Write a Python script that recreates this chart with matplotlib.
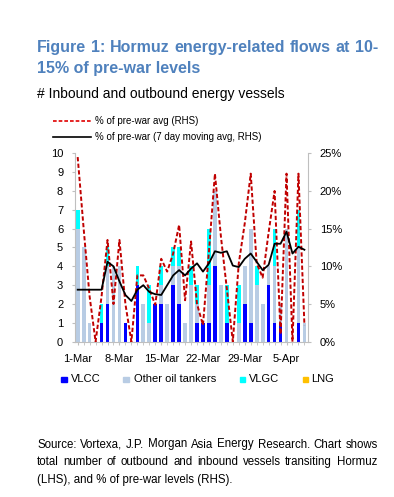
import matplotlib
matplotlib.use('Agg')
import matplotlib.pyplot as plt
import numpy as np
from matplotlib.lines import Line2D
from matplotlib.patches import Rectangle

plt.rcParams['font.family'] = ['Liberation Sans', 'DejaVu Sans']

# ---------------- data (1-Mar .. 8-Apr, daily) ----------------
tick_pos = [0, 7, 14, 21, 28, 35]
tick_labels = ['1-Mar', '8-Mar', '15-Mar', '22-Mar', '29-Mar', '5-Apr']

vlcc  = [0,0,0,0,1,2,0,0,1,0,3,0,0,2,2,0,3,2,0,0,1,1,1,4,0,1,0,0,2,1,0,0,3,1,1,0,0,1,0]
other = [6,5,1,0,0,2,4,4,0,0,0,2,1,0,1,2,1,2,1,3,1,0,2,4,3,0,0,1,2,5,3,2,1,3,1,6,0,4,1]
vlgc  = [1,0,0,0,1,1,0,0,0,0,1,0,2,0,1,0,1,1,0,1,1,0,3,0,0,2,0,2,0,0,1,0,0,2,0,0,0,2,0]
lng   = [0]*39

pct_prewar = [24.5,15,6,0,6,13.5,5,13.5,5,0,8.8,8.8,7,4.9,11,9.3,11.7,15.5,5.5,13.3,
              5,2.2,12,22.3,14,7,0,10.4,15.7,22.3,10.4,8.5,14.5,20,1,22.3,0,22.3,2.2]
pct_ma7 = [6.9,6.9,6.9,6.9,6.9,10.6,10.0,8.0,6.2,5.4,6.9,7.5,6.6,6.3,6.2,7.5,8.8,9.5,8.8,9.7,
           10.4,9.3,10.4,12.0,11.8,12.0,10.1,9.9,11.0,11.7,10.6,9.5,10.2,13.0,13.0,14.6,11.7,12.6,12.2]

series_names = ['VLCC', 'Other oil tankers', 'VLGC', 'LNG']
series_colors = ['#0000FF', '#B8CCE4', '#00FFFF', '#FFC000']

footnote = ['Source: Vortexa, J.P. Morgan Asia Energy Research. Chart shows',
            'total number of outbound and inbound vessels transiting Hormuz',
            '(LHS), and % of pre-war levels (RHS).']

# ---------------- layout ----------------
W, H = 394, 497
fig = plt.figure(figsize=(W/100, H/100), dpi=100)
def fx(px): return px / W
def fy(py): return 1 - py / H

GRAY = '#BFBFBF'
ax = fig.add_axes([fx(75), fy(341.7), (308 - 75) / W, (341.7 - 153.3) / H])
x = np.arange(len(vlcc))
bottom = np.zeros(len(x))
for vals, col in zip([vlcc, other, vlgc, lng], series_colors):
    ax.bar(x, vals, 0.62, bottom=bottom, color=col, linewidth=0)
    bottom += np.array(vals, dtype=float)
ax.set_ylim(0, 10)
ax.set_xlim(-0.45, 38.6)
ax.set_yticks(range(0, 11))
ax.set_xticks(tick_pos)
ax.set_xticklabels(tick_labels)
ax.set_xticks(x, minor=True)
for s in ['top', 'right']:
    ax.spines[s].set_visible(False)
for s in ['left', 'bottom']:
    ax.spines[s].set_color(GRAY)
ax.tick_params(axis='y', length=2.5, color=GRAY, labelsize=8, pad=6)
ax.tick_params(axis='x', which='both', length=2.5, color=GRAY, labelsize=8, pad=6)

ax2 = ax.twinx()
ax2.plot(x, pct_prewar, color='#C00000', lw=1.4, ls=(0, (2.2, 1.2)))
ax2.plot(x, pct_ma7, color='black', lw=1.3)
ax2.set_ylim(0, 25)
ax2.set_yticks([0, 5, 10, 15, 20, 25])
ax2.set_yticklabels([f'{v}%' for v in [0, 5, 10, 15, 20, 25]])
for s in ['top', 'left', 'bottom']:
    ax2.spines[s].set_visible(False)
ax2.spines['right'].set_color(GRAY)
ax2.tick_params(axis='y', length=2.5, color=GRAY, labelsize=8, pad=6)

# ---------------- texts ----------------
renderer = fig.canvas.get_renderer()

def justify(words, x0, x1, y, **kw):
    ts = [fig.text(0, fy(y), w, va='baseline', ha='left', **kw) for w in words]
    widths = [t.get_window_extent(renderer).width for t in ts]
    gap = ((x1 - x0) - sum(widths)) / (len(words) - 1)
    cx = x0
    for t, w in zip(ts, widths):
        t.set_x(fx(cx))
        cx += w + gap

TITLE_C = '#4F81BD'
justify('Figure 1: Hormuz energy-related flows at 10-'.split(), 37, 378, 51.7,
        fontsize=11.5, fontweight='bold', color=TITLE_C)
fig.text(fx(37), fy(73.3), '15% of pre-war levels', fontsize=11.5, fontweight='bold',
         color=TITLE_C, va='baseline')
fig.text(fx(37), fy(98.3), '# Inbound and outbound energy vessels', fontsize=10,
         va='baseline')

# top legend
for yy, style, lab in [(120.7, dict(color='#E00000', lw=1.2, ls=(0, (2.2, 1.2))), '% of pre-war avg (RHS)'),
                       (136.7, dict(color='black', lw=1.2, ls='-'), '% of pre-war (7 day moving avg, RHS)')]:
    fig.add_artist(Line2D([fx(53), fx(91)], [fy(yy), fy(yy)], **style))
    fig.text(fx(95), fy(yy), lab, fontsize=7, va='center')

# bottom legend
for sx, tx, col, lab in zip([61, 123, 239.5, 302.5], [70.5, 133.5, 249, 311.5],
                            series_colors, series_names):
    fig.add_artist(Rectangle((fx(sx), fy(382)), 5.5 / W, 5.5 / H, color=col,
                             transform=fig.transFigure))
    fig.text(fx(tx), fy(379.5), lab, fontsize=8, va='center')

# footnote: pick the largest size at which the first line fits the text block
fs = 10.0
while fs > 7:
    t = fig.text(0, 0, footnote[0], fontsize=fs)
    w = t.get_window_extent(renderer).width
    t.remove()
    if w <= 338:
        break
    fs -= 0.1
justify(footnote[0].split(), 37, 378, 447.5, fontsize=fs)
justify(footnote[1].split(), 37, 377, 465, fontsize=fs)
fig.text(fx(37), fy(482.5), footnote[2], fontsize=fs, va='baseline')

fig.savefig('out.png', dpi=100)
